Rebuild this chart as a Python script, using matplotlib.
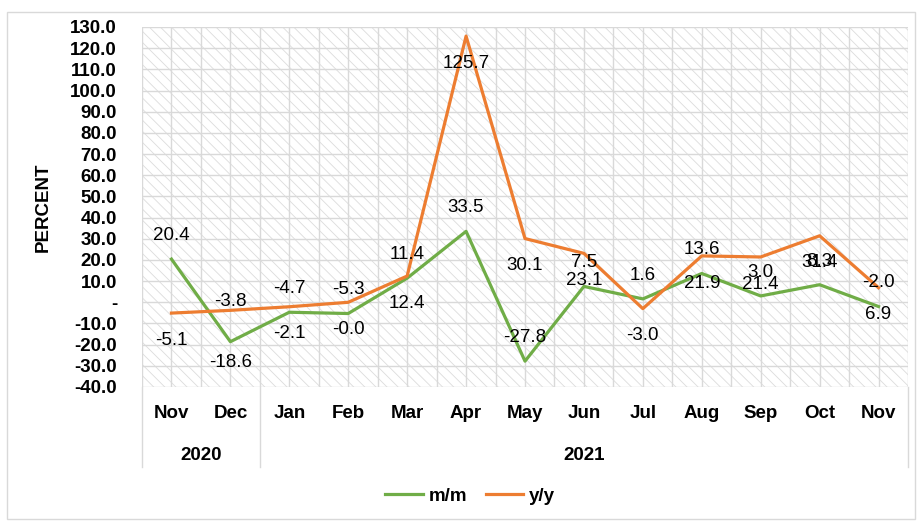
import matplotlib
matplotlib.use('Agg')
import matplotlib.pyplot as plt
import matplotlib.ticker as mtick
from matplotlib.patches import Rectangle
import numpy as np

months = ['Nov', 'Dec', 'Jan', 'Feb', 'Mar', 'Apr', 'May', 'Jun', 'Jul', 'Aug', 'Sep', 'Oct', 'Nov']
years = ['2020', '2021']
year_spans = [(0, 1), (2, 12)]
mm = [20.4, -18.6, -4.7, -5.3, 11.4, 33.5, -27.8, 7.5, 1.6, 13.6, 3.0, 8.3, -2.0]
yy = [-5.1, -3.8, -2.1, -0.0, 12.4, 125.7, 30.1, 23.1, -3.0, 21.9, 21.4, 31.4, 6.9]

GREEN = '#70AD47'
ORANGE = '#ED7D31'
GRID = '#d9d9d9'

plt.rcParams['font.family'] = ['Liberation Sans', 'DejaVu Sans']
plt.rcParams['hatch.linewidth'] = 0.6
plt.rcParams['hatch.color'] = '#dcdcdc'

fig = plt.figure(figsize=(9.17, 5.21), dpi=100)
# chart area border
fig.patches.append(Rectangle((7 / 917, 0.003), 0.99, 1 - 12 / 521 - 0.003, transform=fig.transFigure,
                             fill=False, edgecolor=GRID, linewidth=1))

ax = fig.add_axes([142 / 917, 1 - 387 / 521, (908 - 142) / 917, 360 / 521])
x = np.arange(len(months))

# hatched plot area
ax.add_patch(Rectangle((0, 0), 1, 1, transform=ax.transAxes, facecolor='white',
                       hatch='\\\\\\', edgecolor='#dcdcdc', linewidth=0, zorder=0))

ax.plot(x, mm, color=GREEN, linewidth=2.3, label='m/m', zorder=3)
ax.plot(x, yy, color=ORANGE, linewidth=2.3, label='y/y', zorder=3)

# data labels: m/m above, y/y below (Dec swapped)
for i in range(len(x)):
    off_g = -15 if i == 1 else 17
    off_o = 6.5 if i == 1 else -19.5
    ax.annotate('%.1f' % mm[i], (x[i], mm[i]), xytext=(0, off_g), textcoords='offset points',
                ha='center', va='center', fontsize=13.5, zorder=4)
    ax.annotate('%.1f' % yy[i], (x[i], yy[i]), xytext=(0, off_o), textcoords='offset points',
                ha='center', va='center', fontsize=13.5, zorder=4)

ax.set_xlim(-0.5, len(months) - 0.5)
ax.set_ylim(-40, 130)
ax.set_yticks(np.arange(-40, 131, 10))
ax.yaxis.set_major_formatter(mtick.FuncFormatter(lambda v, p: '-' if abs(v) < 1e-9 else '%.1f' % v))
ax.set_xticks(x)
ax.set_xticklabels(months)
ax.tick_params(axis='both', length=0, labelsize=13.5)
ax.tick_params(axis='x', pad=13)
ax.tick_params(axis='y', pad=18)
for lbl in ax.get_xticklabels() + ax.get_yticklabels():
    lbl.set_fontweight('bold')

# gridlines
for v in np.arange(-40, 131, 10):
    ax.axhline(v, color=GRID, linewidth=1, zorder=1)
for v in np.arange(-0.5, len(months), 0.5):
    ax.axvline(v, color=GRID, linewidth=1, zorder=1)

for s in ax.spines.values():
    s.set_visible(False)

# year row and separators
for name, (a, b) in zip(years, year_spans):
    ax.text((a + b) / 2, -0.19, name, transform=ax.get_xaxis_transform(),
            ha='center', va='center', fontsize=13.5, fontweight='bold')
for sep in [-0.5, 1.5, 12.5]:
    ax.plot([sep, sep], [0, -0.222], transform=ax.get_xaxis_transform(),
            color=GRID, linewidth=1, clip_on=False)

ax.set_ylabel('PERCENT', fontsize=13.5, fontweight='bold')
ax.yaxis.set_label_coords(-(142 - 52) / 766, 0.5)

leg = fig.legend(loc='center', bbox_to_anchor=(470 / 917, 25 / 521), ncol=2, frameon=False,
                 prop={'weight': 'bold', 'size': 13.5}, handlelength=2.0, handletextpad=0.3,
                 columnspacing=1.0)

fig.savefig('out.png', dpi=100)
